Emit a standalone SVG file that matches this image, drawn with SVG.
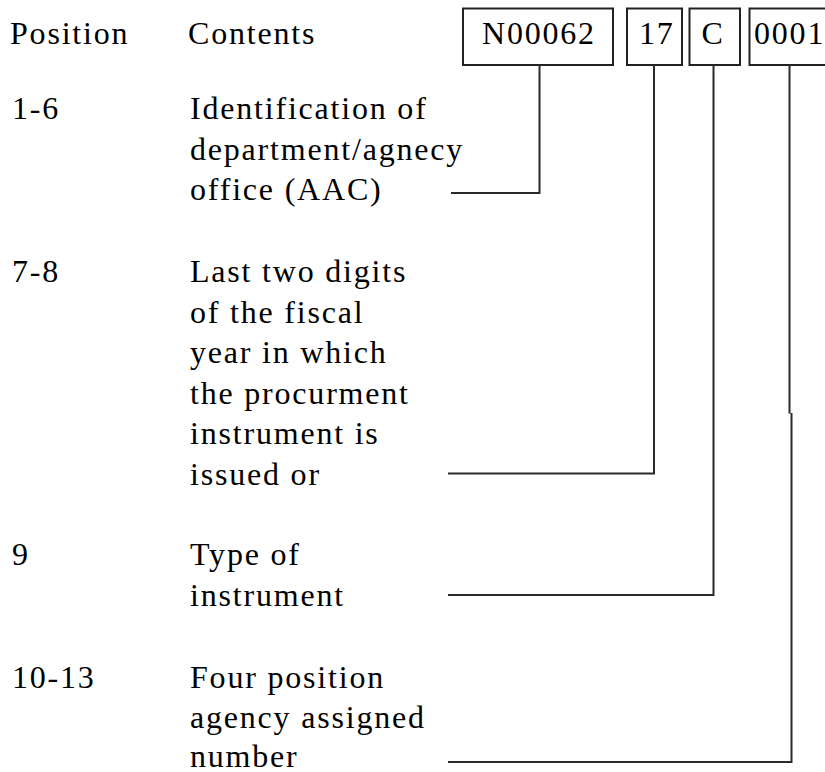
<svg xmlns="http://www.w3.org/2000/svg" width="825" height="772" viewBox="0 0 825 772">
<style>
text{font-family:"Liberation Serif","Times New Roman",serif;font-size:32px;letter-spacing:1.8px;fill:#000}
.box{fill:#fff;stroke:#222;stroke-width:2}
.con{fill:none;stroke:#2a2a2a;stroke-width:2}
</style>
<rect width="825" height="772" fill="#fff"/>
<g id="header">
<text x="10" y="44">Position</text>
<text x="188" y="44">Contents</text>
</g>
<g id="box-n00062"><rect class="box" x="463" y="8.5" width="150" height="56.5"/><text x="482" y="44">N00062</text></g>
<g id="box-17"><rect class="box" x="627" y="8.5" width="55" height="56.5"/><text x="639" y="44">17</text></g>
<g id="box-c"><rect class="box" x="689.5" y="8.5" width="50.5" height="56.5"/><text x="701.5" y="44">C</text></g>
<g id="box-0001"><rect class="box" x="749.5" y="8.5" width="90" height="56.5"/><text x="754" y="44">0001</text></g>
<g id="row-1-6">
<text x="12" y="119">1-6</text>
<text x="190" y="119">Identification of</text>
<text x="190" y="160">department/agnecy</text>
<text x="190" y="200">office (AAC)</text>
</g>
<g id="row-7-8">
<text x="12" y="282">7-8</text>
<text x="190" y="282">Last two digits</text>
<text x="190" y="322.5">of the fiscal</text>
<text x="190" y="363">year in which</text>
<text x="190" y="403.5">the procurment</text>
<text x="190" y="444">instrument is</text>
<text x="190" y="484.5">issued or</text>
</g>
<g id="row-9">
<text x="12" y="565">9</text>
<text x="190" y="565">Type of</text>
<text x="190" y="606">instrument</text>
</g>
<g id="row-10-13">
<text x="12" y="688">10-13</text>
<text x="190" y="688">Four position</text>
<text x="190" y="728">agency assigned</text>
<text x="190" y="767">number</text>
</g>
<g id="connectors">
<path class="con" d="M451 193H539.5V65"/>
<path class="con" d="M448 473.5H654V65"/>
<path class="con" d="M448 595H713.5V65"/>
<path class="con" d="M448 762H791.5V413M789.5 413.5V65"/>
</g>
</svg>
